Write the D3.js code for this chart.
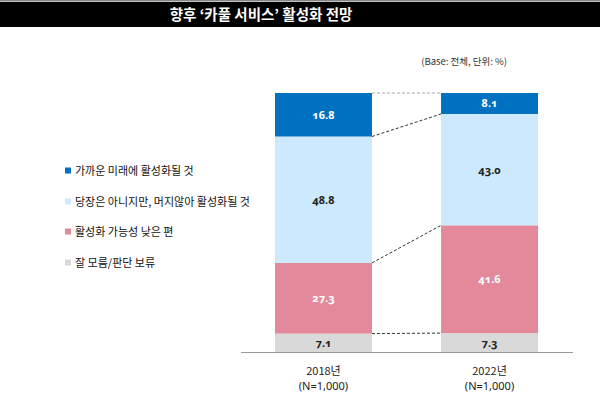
<!DOCTYPE html>
<html>
<head>
<meta charset="utf-8">
<script src="https://cdn.jsdelivr.net/npm/d3@7"></script>
<style>
body {
  margin: 0;
  background-color: white;
  font-family: "Noto Sans CJK KR", sans-serif;
}
.val {
  font-family: "Noto Sans", sans-serif;
  font-weight: bold;
  font-size: 11px;
  font-variant-numeric: oldstyle-nums;
}
</style>
</head>
<body>
<script>

const years = ["2018년", "2022년"];
const samples = ["(N=1,000)", "(N=1,000)"];
const categories = ["가까운 미래에 활성화될 것", "당장은 아니지만, 머지않아 활성화될 것", "활성화 가능성 낮은 편", "잘 모름/판단 보류"];
const soon = [16.8, 8.1];
const later = [48.8, 43.0];
const unlikely = [27.3, 41.6];
const unsure = [7.1, 7.3];
const colors = ["#0070c0", "#cce9fd", "#e4889b", "#d9d9d9"];
const textColors = ["white", "#222", "white", "#222"];

const W = 600, H = 399;
const svg = d3.select("body").append("svg")
  .attr("width", W).attr("height", H);

// title bar
svg.append("rect").attr("x", 0).attr("y", 0).attr("width", W).attr("height", 1.5).attr("fill", "#888");
svg.append("rect").attr("x", 0).attr("y", 2).attr("width", W).attr("height", 25).attr("fill", "black");
svg.append("text")
  .attr("x", 261).attr("y", 20)
  .attr("text-anchor", "middle")
  .attr("fill", "white")
  .attr("font-size", "14.5px")
  .attr("font-weight", "bold")
  .text("향후 ‘카풀 서비스’ 활성화 전망");

svg.append("text")
  .attr("x", 507).attr("y", 65)
  .attr("text-anchor", "end")
  .attr("fill", "#333")
  .attr("font-size", "9.5px")
  .text("(Base: 전체, 단위: %)");

// stack: bottom is unsure, top is soon
const series = [soon, later, unlikely, unsure];
const rows = years.map((y, i) => {
  const r = {year: y};
  categories.forEach((c, k) => r[c] = series[k][i]);
  return r;
});
const stack = d3.stack().keys(categories.slice().reverse());
const stacked = stack(rows);

const x = d3.scaleBand().domain(years).range([275, 538]).paddingInner(0.416).paddingOuter(0);
const y = d3.scaleLinear().domain([0, 100]).range([352, 93]);

const g = svg.append("g");
stacked.forEach(layer => {
  const k = categories.indexOf(layer.key);
  g.selectAll(null).data(layer).join("rect")
    .attr("x", d => x(d.data.year))
    .attr("y", d => y(d[1]))
    .attr("width", x.bandwidth())
    .attr("height", d => y(d[0]) - y(d[1]))
    .attr("fill", colors[k]);
  g.selectAll(null).data(layer).join("text")
    .attr("class", "val")
    .attr("x", d => x(d.data.year) + x.bandwidth() / 2)
    .attr("y", d => (y(d[0]) + y(d[1])) / 2 + 4)
    .attr("text-anchor", "middle")
    .attr("fill", textColors[k])
    .text(d => (d[1] - d[0]).toFixed(1));
});

// dashed connectors between segment boundaries
stacked.forEach(layer => {
  const top = layer.key === categories[0];
  svg.append("line")
    .attr("x1", x(years[0]) + x.bandwidth())
    .attr("y1", y(layer[0][1]))
    .attr("x2", x(years[1]))
    .attr("y2", y(layer[1][1]))
    .attr("stroke", top ? "#aaa" : "#333")
    .attr("stroke-width", 1)
    .attr("stroke-dasharray", "3,2");
});

// baseline
svg.append("line")
  .attr("x1", 241).attr("x2", 573)
  .attr("y1", y(0) + 0.5).attr("y2", y(0) + 0.5)
  .attr("stroke", "#999");

// x labels, two lines each
const xl = svg.append("g");
years.forEach((yr, i) => {
  const cx = x(yr) + x.bandwidth() / 2;
  xl.append("text").attr("x", cx).attr("y", 375).attr("text-anchor", "middle")
    .attr("font-size", "11px").attr("fill", "#222").text(yr);
  xl.append("text").attr("x", cx).attr("y", 390).attr("text-anchor", "middle")
    .attr("font-family", "'Noto Sans', sans-serif")
    .attr("font-size", "11px").attr("fill", "#222").text(samples[i]);
});

// legend
const legendY = [171, 202, 232, 263];
const lg = svg.append("g");
categories.forEach((c, k) => {
  lg.append("rect").attr("x", 65).attr("y", legendY[k] - 3.5).attr("width", 6).attr("height", 6).attr("fill", colors[k]);
  lg.append("text").attr("x", 75).attr("y", legendY[k] + 4)
    .attr("font-size", "11px").attr("fill", "#111").text(c);
});

</script>
</body>
</html>
